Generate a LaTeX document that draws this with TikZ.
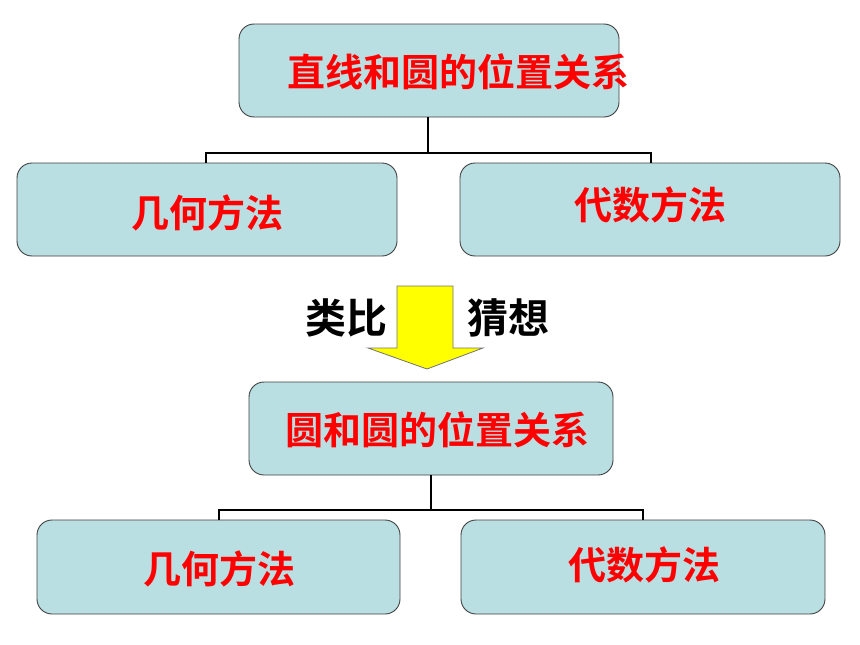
\documentclass[tikz,border=0pt]{standalone}
\usepackage{fontspec}
\newfontfamily\cjk{Noto Sans CJK SC}[BoldFont={Noto Sans CJK SC Bold}]
\begin{document}
\begin{tikzpicture}[x=1pt,y=-1pt,
  box/.style={draw=black!75,line width=0.9pt,fill=boxfill,rounded corners=15pt},
  lbl/.style={inner sep=0pt,anchor=center,font=\cjk\bfseries\fontsize{38}{42}\selectfont},
  big/.style={font=\cjk\bfseries\fontsize{41}{45}\selectfont},
  red/.style={text=red},
  conn/.style={draw=black,line width=2.5pt}]
\definecolor{boxfill}{HTML}{B9DFE2}
\definecolor{arrowfill}{HTML}{FFFF00}
\useasboundingbox (0,0) rectangle (860,645);
% top group
\draw[box] (239,24) rectangle (619,117);
\draw[box] (17,163) rectangle (397,256);
\draw[box] (460,163) rectangle (840,256);
\node[lbl,red] (t1) at (458,72) {直线和圆的位置关系};
\node[lbl,red] (t2) at (207,213) {几何方法};
\node[lbl,red] (t3) at (650,205) {代数方法};
\coordinate (a0) at (428,117);
\coordinate (a1) at (428,153);
\coordinate (aL) at (206,153);
\coordinate (aR) at (651,153);
\coordinate (aLd) at (206,163);
\coordinate (aRd) at (651,163);
\draw[conn] (a0) -- (a1);
\draw[conn] (aLd) -- (aL) -- (aR) -- (aRd);
% arrow
\draw[draw=black!55,line width=0.8pt,fill=arrowfill]
  (397,286) -- (453,286) -- (453,348) -- (483,348) -- (427,369) -- (368,348) -- (397,348) -- cycle;
\node[lbl,big] (l1) at (346,318) {类比};
\node[lbl,big] (l2) at (508,318) {猜想};
% bottom group
\draw[box] (249,382) rectangle (613,475);
\draw[box] (37,520) rectangle (400,614);
\draw[box] (461,520) rectangle (825,614);
\node[lbl,red] (b1) at (437,430) {圆和圆的位置关系};
\node[lbl,red] (b2) at (219,569) {几何方法};
\node[lbl,red] (b3) at (644,565) {代数方法};
\coordinate (c0) at (431,475);
\coordinate (c1) at (431,510);
\coordinate (cL) at (219,510);
\coordinate (cR) at (643,510);
\coordinate (cLd) at (219,520);
\coordinate (cRd) at (643,520);
\draw[conn] (c0) -- (c1);
\draw[conn] (cLd) -- (cL) -- (cR) -- (cRd);
\end{tikzpicture}
\end{document}
